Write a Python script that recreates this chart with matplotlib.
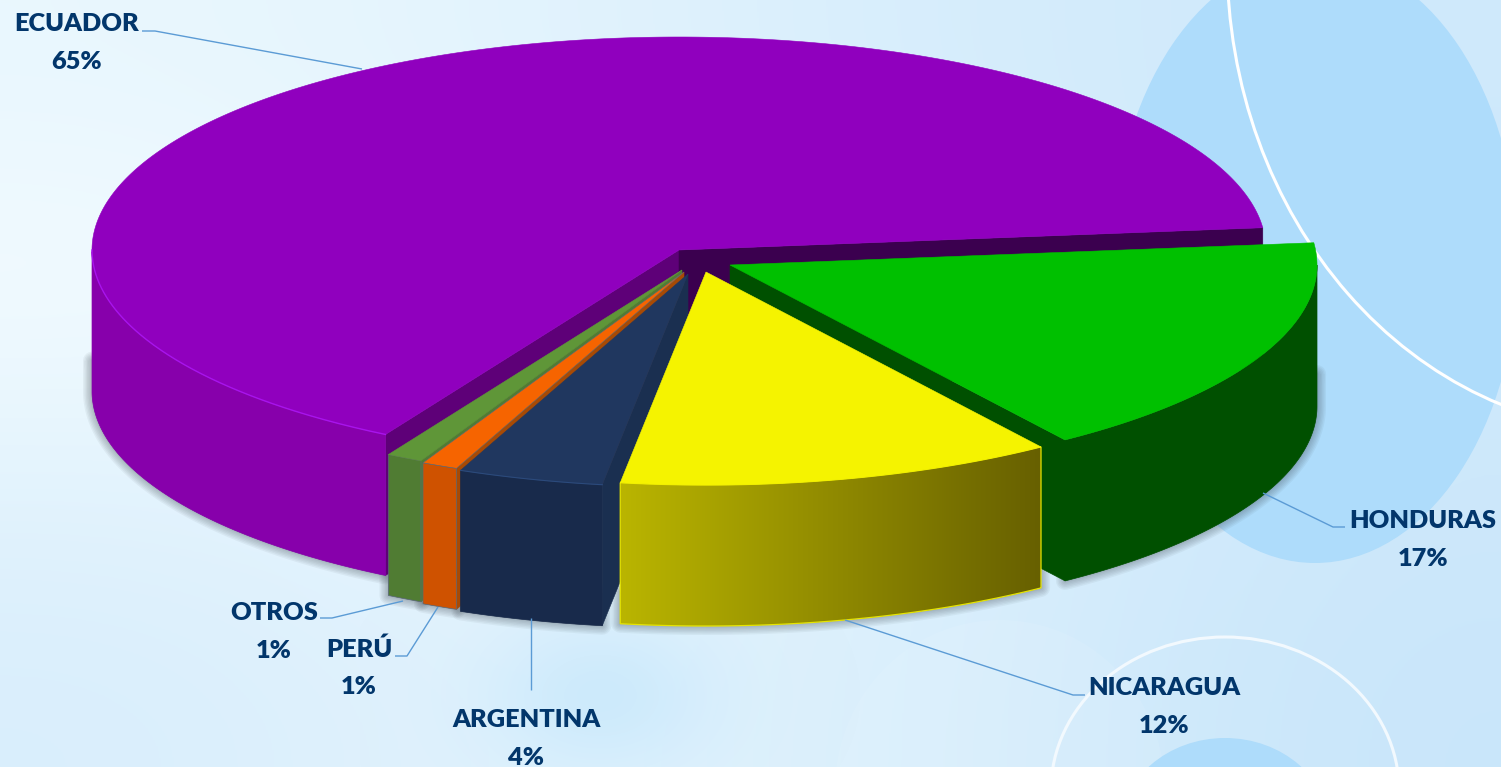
import numpy as np
import matplotlib
matplotlib.use("Agg")
import matplotlib.pyplot as plt
from matplotlib.colors import to_rgb, LinearSegmentedColormap
from matplotlib.patches import Ellipse, Polygon

# ---- data ----
categories = ["ECUADOR", "HONDURAS", "NICARAGUA", "ARGENTINA", "PERÚ", "OTROS"]
values = [65, 17, 12, 4, 1, 1]

# ---- style / layout ----
top_colors = ["#9000be", "#00c000", "#f5f300", "#20375f", "#f66400", "#5f9638"]
side_colors = ["#8700ab", "#005000", "#8f8a00", "#182a4b", "#cf5200", "#507c33"]
wall_high = ["#5e0078", "#005000", "#000000", "#1a2f50", "#a84a04", "#507c33"]
wall_low = ["#3b004f", "#005000", "#000000", "#1a2f50", "#a84a04", "#507c33"]
offsets = [(0, 0), (51, 15), (27, 22), (9, 24), (5, 22), (3, 20)]
paint_order = [0, 1, 5, 4, 3, 2]
label_pos = [(77, 43), (1423, 540), (1164, 707), (526, 739), (359, 668), (274, 632)]
leaders = [
    [(142, 31), (155, 31), (362, 69)],
    [(1263, 493), (1333, 527), (1345, 527)],
    [(845, 620), (1073, 695), (1085, 695)],
    [(531, 618), (531, 690)],
    [(438, 607), (407, 656), (395, 656)],
    [(403, 601), (332, 618), (320, 618)],
]
CX, CY, A, B, DEPTH, START = 679, 250, 587, 213, 141, 240.0
W, H = 1501, 767

plt.rcParams["font.family"] = ["Lato", "DejaVu Sans"]
fig = plt.figure(figsize=(W / 100, H / 100), dpi=100)
ax = fig.add_axes([0, 0, 1, 1])
ax.axis("off")

# background
grid = [["#e9f7fe", "#e2f3fd", "#d6edfc", "#cfe9fb"],
        ["#f4fcff", "#e8f6fe", "#dbf0fd", "#cde8fb"],
        ["#e2f3fd", "#e8f6fe", "#dceffd", "#cde8fb"],
        ["#d9eefc", "#e4f4fe", "#d9effc", "#c9e6fa"]]
bg = np.array([[to_rgb(c) for c in r] for r in grid])
ax.imshow(bg, extent=(0, W, H, 0), interpolation="bicubic", aspect="auto", zorder=0)

yy, xx = np.mgrid[520:767, 360:860]
blob = np.zeros(xx.shape + (4,))
blob[..., :3] = to_rgb("#c3e6fb")
blob[..., 3] = 0.65 * np.exp(-(((xx - 600) / 115.0) ** 2 + ((yy - 695) / 80.0) ** 2))
ax.imshow(blob, extent=(360, 860, 767, 520), aspect="auto", zorder=0.5)

ax.add_patch(Ellipse((1000, 790), 330, 340, fc="#ffffff", ec="none", alpha=0.08, zorder=1))
ax.add_patch(Ellipse((1315, 260), 406, 606, fc="#aedcfb", ec="none", zorder=1))
ax.add_patch(Ellipse((1225, 830), 210, 184, fc="#aedcfb", ec="none", zorder=1))
ax.add_patch(Ellipse((1640, -40), 826, 944, fc="none", ec="#ffffff", lw=2.2, zorder=1.2))
ax.add_patch(Ellipse((1225, 790), 348, 306, fc="none", ec="#f2f9fe", lw=2.2, zorder=1.2))


def rim(ox, oy, ts):
    r = np.radians(ts)
    return CX + ox + A * np.cos(r), CY + oy - B * np.sin(r)


# wedge angles follow from the values, clockwise from START
fractions = np.array(values, dtype=float) / sum(values) * 360.0
highs = START - np.concatenate(([0], np.cumsum(fractions)[:-1]))
lows = highs - fractions


def side_poly(i, depth_from=0.0):
    ox, oy = offsets[i]
    ts = np.linspace(highs[i], lows[i], 500)
    ts = ts[np.sin(np.radians(ts)) <= 1e-9]
    x, y = rim(ox, oy, ts)
    return np.column_stack([np.r_[x, x[::-1]],
                            np.r_[y + depth_from, (y + DEPTH)[::-1]]])


# soft shadow beneath the front of the solid
for lw in [13, 11, 9, 7, 5, 3, 1.5]:
    for i in range(len(values)):
        ax.add_patch(Polygon(side_poly(i, DEPTH - 32), closed=True, fc="#3c464e", ec="#3c464e",
                             lw=lw, alpha=0.06, joinstyle="round", zorder=2))

z = 3.0
for i in paint_order:
    ox, oy = offsets[i]
    ax_pt = (CX + ox, CY + oy)
    hi, lo = highs[i], lows[i]
    # interior walls that face the viewer
    for t, normal, col in ((hi, hi + 90, wall_high[i]), (lo, lo - 90, wall_low[i])):
        if np.sin(np.radians(normal)) < 0:
            rx, ry = rim(ox, oy, np.array([t]))
            ax.add_patch(Polygon([ax_pt, (rx[0], ry[0]), (rx[0], ry[0] + DEPTH),
                                  (ax_pt[0], ax_pt[1] + DEPTH)], closed=True,
                                 fc=col, ec=col, lw=0.4, zorder=z))
            z += 0.01
    # outer side
    poly = side_poly(i)
    if categories[i] == "NICARAGUA":
        cmap = LinearSegmentedColormap.from_list("n", ["#bab500", "#676000"])
        x0, x1 = poly[:, 0].min(), poly[:, 0].max()
        y0, y1 = poly[:, 1].min(), poly[:, 1].max()
        im = ax.imshow(np.linspace(0, 1, 256)[None, :], cmap=cmap, extent=(x0, x1, y1, y0),
                       aspect="auto", zorder=z)
        im.set_clip_path(Polygon(poly, closed=True, transform=ax.transData))
        ax.add_patch(Polygon(poly, closed=True, fc="none", ec="#e6e400", lw=0.9, zorder=z + 0.001))
    else:
        edge = "#5a6878" if categories[i] in ("PERÚ", "OTROS") else side_colors[i]
        ax.add_patch(Polygon(poly, closed=True, fc=side_colors[i], ec=edge, lw=0.5, zorder=z))
    z += 0.01
    # top
    ts = np.linspace(hi, lo, 600)
    x, y = rim(ox, oy, ts)
    top = np.column_stack([np.r_[ax_pt[0], x], np.r_[ax_pt[1], y]])
    edge = "#5a6878" if categories[i] in ("PERÚ",) else top_colors[i]
    ax.add_patch(Polygon(top, closed=True, fc=top_colors[i], ec=edge, lw=0.4, zorder=z))
    z += 0.01
    if categories[i] == "ECUADOR":
        tf = np.linspace(hi, 180, 200)
        hx, hy = rim(ox, oy, tf)
        ax.plot(hx, hy, color="#a814ec", lw=1.0, zorder=z)
    if categories[i] == "ARGENTINA":
        tf = np.linspace(hi, lo, 100)
        hx, hy = rim(ox, oy, tf)
        ax.plot(hx, hy, color="#2b4a7c", lw=0.8, zorder=z)
    z += 0.01

# leaders and labels
for pts in leaders:
    px, py = zip(*pts)
    ax.plot(px, py, color="#5b9bd5", lw=1.0, zorder=20, solid_capstyle="butt")
for cat, val, (lx, ly) in zip(categories, values, label_pos):
    ax.text(lx, ly, f"{cat}\n{val}%", ha="center", va="center", color="#02366b",
            fontsize=18.3, fontweight="heavy", linespacing=1.85, zorder=21)

ax.set_xlim(0, W)
ax.set_ylim(H, 0)
fig.savefig("out.png", dpi=100)
